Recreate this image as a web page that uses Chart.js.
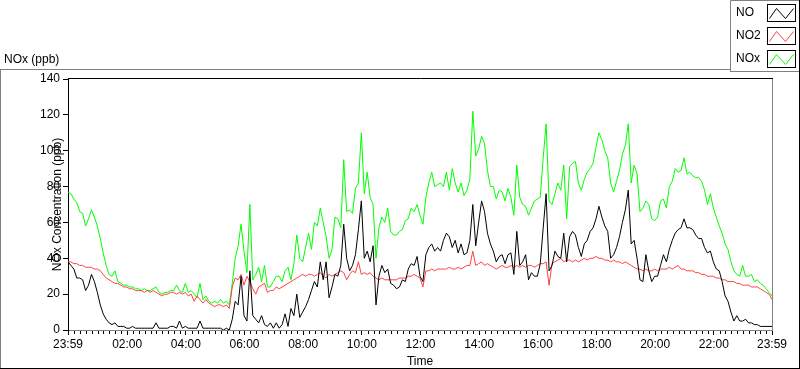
<!DOCTYPE html>
<html>
<head>
<meta charset="utf-8">
<title>NOx (ppb)</title>
<script src="https://cdn.jsdelivr.net/npm/chart.js@4.4.1/dist/chart.umd.min.js"></script>
<style>
  html, body { margin: 0; padding: 0; background: #fff; }
  #wrap { position: relative; width: 800px; height: 369px; }
</style>
</head>
<body>
<div id="wrap"><canvas id="chart" width="800" height="369"></canvas></div>
<script>
// one sample every 6 minutes, starting at 23:59 (minute 0) and ending 24 h later
const SAMPLE_MIN = 6;

const seriesNames = ['NO', 'NO2', 'NOx'];
const seriesColors = ['#000000', '#ff4040', '#00ff00'];

const noValues = [
  38, 36, 34, 29, 29, 28, 22, 25, 31, 27,
  21, 14, 9, 6, 4, 3, 4, 2, 2, 2,
  1, 1, 2, 1, 1, 1, 1, 1, 1, 1,
  4, 1, 1, 1, 1, 2, 2, 1, 5, 1,
  2, 1, 1, 1, 1, 5, 1, 1, 1, 1,
  1, 1, 1, 0, 1, 0, 6, 16, 14, 30,
  8, 5, 33, 8, 6, 4, 8, 3, 2, 4,
  1, 4, 1, 3, 9, 2, 12, 8, 20, 7,
  10, 13, 17, 22, 27, 24, 38, 28, 38, 18,
  24, 31, 30, 36, 59, 40, 33, 36, 42, 56,
  72, 40, 44, 38, 47, 14, 30, 36, 32, 34,
  26, 25, 23, 24, 28, 27, 34, 37, 36, 41,
  30, 27, 42, 46, 48, 44, 46, 44, 50, 54,
  52, 46, 50, 43, 48, 42, 43, 50, 70, 47,
  60, 72, 66, 54, 48, 44, 38, 41, 42, 37,
  42, 43, 31, 55, 36, 38, 42, 28, 32, 30,
  30, 37, 57, 76, 33, 36, 44, 41, 40, 54,
  38, 52, 55, 53, 46, 41, 48, 50, 55, 57,
  62, 69, 63, 58, 55, 40, 42, 46, 52, 60,
  67, 78, 48, 50, 40, 28, 27, 42, 33, 27,
  30, 30, 36, 42, 38, 45, 50, 54, 56, 57,
  62, 57, 57, 56, 53, 51, 51, 46, 43, 44,
  38, 34, 33, 27, 19, 16, 10, 5, 8, 5,
  5, 6, 4, 4, 3, 3, 2, 2, 2, 2,
  2
];

const no2Values = [
  38, 38, 37, 37, 36, 36, 35, 35, 35, 34,
  34, 33, 31, 29, 28, 27, 26, 26, 25, 24,
  24, 23, 23, 22, 22, 22, 21, 22, 21, 22,
  21, 20, 19, 20, 20, 21, 21, 20, 21, 20,
  21, 19, 20, 16, 19, 17, 15, 17, 15, 14,
  13, 14, 14, 13, 14, 12, 24, 29, 28, 31,
  25, 30, 27, 23, 20, 24, 25, 26, 21, 22,
  22, 24, 23, 24, 25, 26, 27, 28, 29, 30,
  31, 30, 31, 31, 30, 31, 32, 30, 29, 31,
  30, 31, 32, 33, 32, 28, 31, 33, 32, 38,
  31, 32, 31, 32, 30, 29, 28, 29, 28, 28,
  28, 28, 28, 29, 29, 29, 30, 30, 31, 30,
  29, 24, 33, 33, 34, 33, 34, 34, 34, 34,
  35, 34, 34, 35, 34, 35, 36, 36, 44, 36,
  37, 38, 36, 37, 36, 35, 34, 35, 36, 35,
  35, 36, 35, 36, 35, 36, 35, 36, 36, 35,
  36, 37, 37, 38, 25, 37, 38, 39, 40, 38,
  39, 39, 38, 39, 38, 39, 40, 39, 40, 40,
  41, 40, 40, 39, 39, 38, 39, 38, 38, 37,
  38, 37, 36, 35, 34, 34, 33, 34, 33, 33,
  34, 33, 34, 34, 34, 35, 34, 35, 36, 34,
  34, 33, 33, 33, 32, 32, 31, 31, 30, 30,
  30, 29, 29, 28, 28, 27, 27, 27, 26, 26,
  25, 25, 25, 24, 24, 24, 23, 22, 21, 20,
  17
];

const noxValues = [
  77, 76, 73, 71, 66, 65, 58, 62, 67, 63,
  58, 51, 43, 36, 31, 30, 33, 27, 26, 25,
  25, 24, 24, 23, 23, 22, 23, 22, 22, 23,
  24, 21, 20, 21, 21, 22, 22, 25, 22, 21,
  26, 21, 22, 20, 18, 26, 17, 19, 16, 15,
  16, 15, 17, 15, 16, 14, 26, 40, 47, 59,
  44, 32, 70, 28, 31, 35, 27, 36, 24, 24,
  27, 30, 30, 27, 33, 35, 28, 37, 53, 40,
  38, 46, 54, 45, 60, 58, 68, 60, 52, 40,
  45, 63, 62, 57, 95, 66, 67, 65, 79, 82,
  110, 76, 88, 74, 70, 40, 57, 63, 60, 68,
  55, 53, 53, 55, 56, 61, 62, 68, 66, 70,
  64, 59, 74, 82, 88, 80, 81, 82, 80, 88,
  78, 90, 82, 77, 82, 75, 78, 84, 122, 97,
  101, 108, 104, 89, 80, 80, 73, 78, 77, 72,
  79, 74, 64, 92, 74, 70, 69, 64, 68, 72,
  73, 74, 96, 115, 72, 70, 76, 82, 78, 92,
  62, 91, 93, 94, 82, 78, 84, 88, 90, 93,
  102, 110, 106, 100, 96, 82, 77, 83, 89, 98,
  103, 115, 82, 92, 87, 66, 68, 72, 70, 62,
  61, 63, 72, 73, 68, 80, 83, 90, 88, 89,
  96, 87, 88, 86, 85, 85, 83, 78, 70, 76,
  68, 63, 58, 54, 48, 45, 38, 33, 31, 30,
  36, 30, 30, 31, 27, 28, 26, 25, 23, 21,
  19
];

// x axis: minutes after 23:59
const tickMinutes = [0, 121, 241, 361, 481, 601, 721, 841, 961, 1081, 1201, 1321, 1440];
const tickLabels = ['23:59', '02:00', '04:00', '06:00', '08:00', '10:00', '12:00',
  '14:00', '16:00', '18:00', '20:00', '22:00', '23:59'];
const MINOR_PER_MAJOR = 10;

const yMin = 0, yMax = 140, yStep = 20;

const FONT = '"Liberation Sans", Arial, sans-serif';
Chart.defaults.font.family = FONT;
Chart.defaults.font.size = 12;
Chart.defaults.color = '#000';

function toPoints(values) {
  return values.map((v, i) => ({ x: i * SAMPLE_MIN, y: v }));
}

const framePlugin = {
  id: 'frame',
  beforeDraw(chart) {
    const ctx = chart.ctx;
    ctx.save();
    ctx.fillStyle = '#fff';
    ctx.fillRect(0, 0, chart.width, chart.height);
    ctx.restore();
  },
  afterDraw(chart) {
    const { ctx, chartArea: a } = chart;
    const xs = chart.scales.x;
    ctx.save();
    ctx.lineWidth = 1;

    // outer panel
    ctx.strokeStyle = '#808080';
    ctx.beginPath();
    ctx.moveTo(0, 69.5); ctx.lineTo(730, 69.5);
    ctx.moveTo(0.5, 69.5); ctx.lineTo(0.5, 368);
    ctx.stroke();
    ctx.strokeStyle = '#000';
    ctx.beginPath();
    ctx.moveTo(0, 368.5); ctx.lineTo(800, 368.5);
    ctx.moveTo(799.5, 72); ctx.lineTo(799.5, 369);
    ctx.stroke();

    // plot frame: top black, right gray
    ctx.strokeStyle = '#000';
    ctx.beginPath();
    ctx.moveTo(a.left, a.top - 0.5); ctx.lineTo(a.right + 1, a.top - 0.5);
    ctx.stroke();
    ctx.strokeStyle = '#808080';
    ctx.beginPath();
    ctx.moveTo(a.right + 0.5, a.top); ctx.lineTo(a.right + 0.5, a.bottom + 1);
    ctx.stroke();

    // minor ticks on the time axis
    ctx.strokeStyle = '#000';
    ctx.beginPath();
    for (let i = 0; i < tickMinutes.length - 1; i++) {
      const step = (tickMinutes[i + 1] - tickMinutes[i]) / MINOR_PER_MAJOR;
      for (let k = 1; k < MINOR_PER_MAJOR; k++) {
        const px = Math.round(xs.getPixelForValue(tickMinutes[i] + k * step)) + 0.5;
        ctx.moveTo(px, a.bottom + 1);
        ctx.lineTo(px, a.bottom + 4);
      }
    }
    ctx.stroke();

    // title
    ctx.fillStyle = '#000';
    ctx.font = '12px ' + FONT;
    ctx.textBaseline = 'alphabetic';
    ctx.textAlign = 'left';
    ctx.fillText('NOx (ppb)', 4, 63);

    // legend box
    ctx.strokeStyle = '#808080';
    ctx.beginPath();
    ctx.moveTo(730.5, 72); ctx.lineTo(730.5, 0.5); ctx.lineTo(800, 0.5);
    ctx.moveTo(730.5, 71.5); ctx.lineTo(800, 71.5);
    ctx.stroke();
    ctx.strokeStyle = '#000';
    ctx.beginPath();
    ctx.moveTo(799.5, 0); ctx.lineTo(799.5, 72);
    ctx.stroke();

    chart.data.datasets.forEach((ds, i) => {
      const cy = 13 + i * 23;
      ctx.fillStyle = '#000';
      ctx.textBaseline = 'middle';
      ctx.fillText(ds.label, 736, cy);
      const bx = 767.5, by = cy - 8.5, bw = 28, bh = 17;
      ctx.strokeStyle = '#000';
      ctx.strokeRect(bx, by, bw, bh);
      ctx.strokeStyle = ds.borderColor;
      ctx.beginPath();
      ctx.moveTo(bx + 2, by + bh - 3);
      ctx.lineTo(bx + 9, by + 4);
      ctx.lineTo(bx + 18, by + bh - 3);
      ctx.lineTo(bx + 26, by + 4);
      ctx.stroke();
    });
    ctx.restore();
  }
};

const ctx = document.getElementById('chart').getContext('2d');
new Chart(ctx, {
  type: 'line',
  data: {
    datasets: [noValues, no2Values, noxValues].map((vals, i) => ({
      label: seriesNames[i],
      data: toPoints(vals),
      borderColor: seriesColors[i],
      backgroundColor: seriesColors[i],
      borderWidth: 1,
      pointRadius: 0,
      tension: 0,
      fill: false
    }))
  },
  options: {
    responsive: false,
    animation: false,
    events: [],
    layout: { padding: { left: 0, top: 79, right: 28, bottom: 0 } },
    plugins: {
      legend: { display: false },
      title: { display: false },
      tooltip: { enabled: false }
    },
    scales: {
      x: {
        type: 'linear',
        min: tickMinutes[0],
        max: tickMinutes[tickMinutes.length - 1],
        afterBuildTicks: (scale) => {
          scale.ticks = tickMinutes.map(v => ({ value: v }));
        },
        afterFit: (scale) => { scale.height = 39; },
        grid: { drawOnChartArea: false, drawTicks: true, tickLength: 5, color: '#000' },
        border: { display: true, color: '#808080' },
        ticks: {
          autoSkip: false,
          maxRotation: 0,
          padding: 2,
          callback: (v) => tickLabels[tickMinutes.indexOf(v)]
        },
        title: { display: true, text: 'Time', padding: { top: 0, bottom: 0 } }
      },
      y: {
        min: yMin,
        max: yMax,
        afterFit: (scale) => { scale.width = 68; },
        grid: { drawOnChartArea: false, drawTicks: true, tickLength: 5, color: '#000' },
        border: { display: true, color: '#000' },
        ticks: { stepSize: yStep, padding: 3 },
        title: { display: true, text: 'NOx Concentration (ppb)', padding: { top: 50, bottom: 0 } }
      }
    }
  },
  plugins: [framePlugin]
});
</script>
</body>
</html>
